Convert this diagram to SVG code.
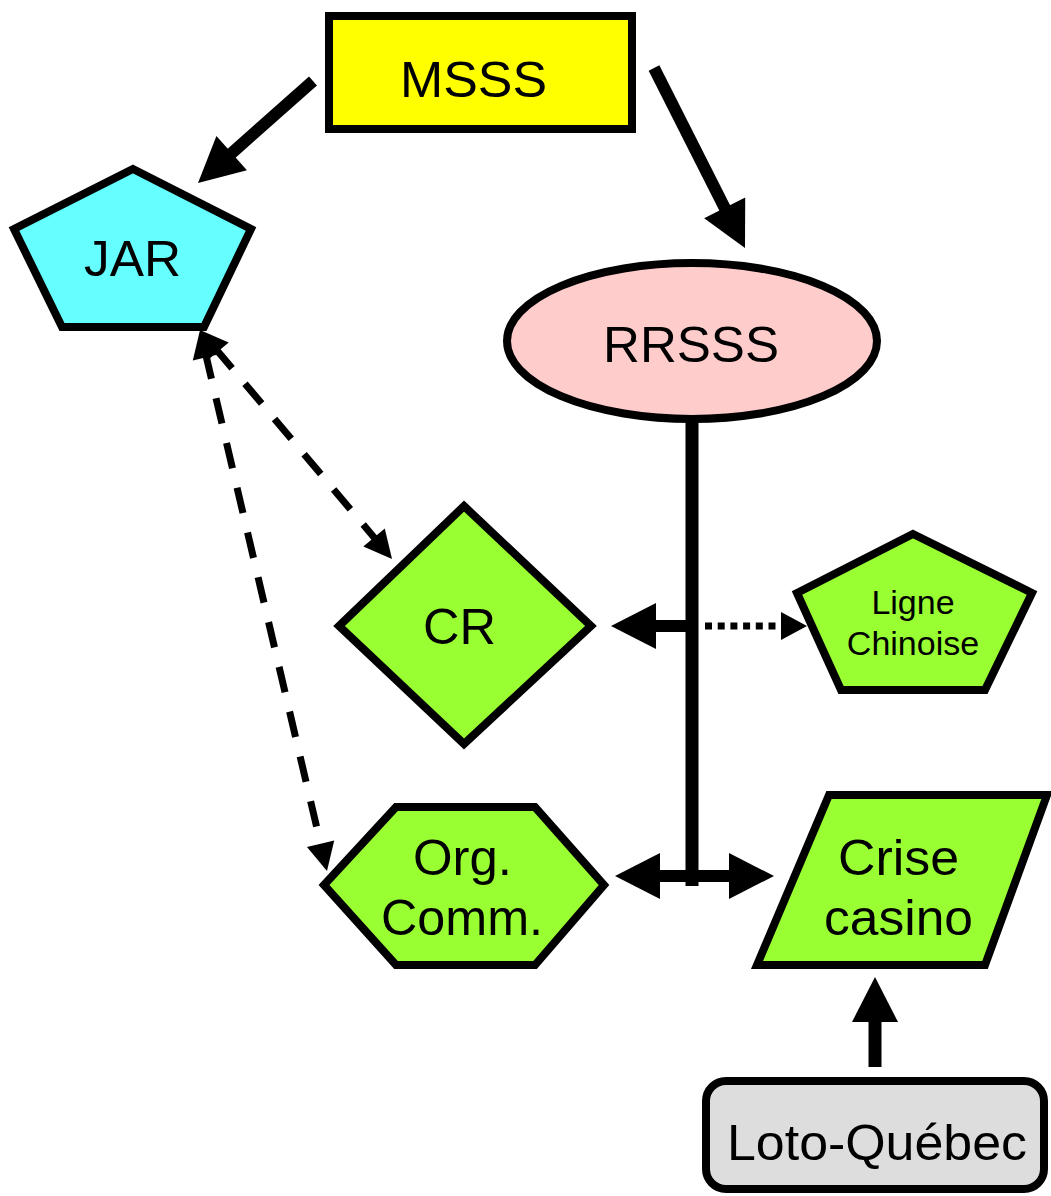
<svg xmlns="http://www.w3.org/2000/svg" width="1051" height="1196" viewBox="0 0 1051 1196">
  <style>
    .node { stroke: #000; stroke-width: 8; stroke-linejoin: miter; }
    .lbl { font-family: "Liberation Sans", Arial, sans-serif; fill: #000; text-anchor: middle; }
    .big { font-size: 50px; }
    .small { font-size: 34px; }
    .thick { stroke: #000; stroke-width: 12; fill: none; }
    .dash { stroke: #000; stroke-width: 7; fill: none; stroke-dasharray: 26 20; }
    .dot { stroke: #000; stroke-width: 7; fill: none; stroke-dasharray: 7 5.7; }
  </style>
  <defs>
    <marker id="bigArrow" markerUnits="userSpaceOnUse" markerWidth="45" markerHeight="46" refX="8" refY="23" orient="auto-start-reverse" overflow="visible">
      <path d="M0,0 L45,23 L0,46 z" fill="#000"/>
    </marker>
    <marker id="smallArrow" markerUnits="userSpaceOnUse" markerWidth="28" markerHeight="28" refX="4" refY="14" orient="auto-start-reverse" overflow="visible">
      <path d="M0,0 L28,14 L0,28 z" fill="#000"/>
    </marker>
    <marker id="dotArrow" markerUnits="userSpaceOnUse" markerWidth="26" markerHeight="28" refX="0" refY="14" orient="auto" overflow="visible">
      <path d="M0,0 L26,14 L0,28 z" fill="#000"/>
    </marker>
  </defs>
  <rect width="1051" height="1196" fill="#fff"/>

  <g id="connectors">
    <line class="thick" x1="313" y1="81" x2="225.7" y2="158.4" marker-end="url(#bigArrow)"/>
    <line class="thick" x1="654" y1="68" x2="728.3" y2="215" marker-end="url(#bigArrow)"/>
    <line class="thick" x1="692" y1="419" x2="692" y2="886" style="stroke-width:13"/>
    <line class="thick" x1="692" y1="626" x2="648" y2="626" marker-end="url(#bigArrow)"/>
    <line class="dot" x1="705" y1="626" x2="781" y2="626" marker-end="url(#dotArrow)"/>
    <line class="thick" x1="652" y1="876" x2="737" y2="876" marker-start="url(#bigArrow)" marker-end="url(#bigArrow)"/>
    <line class="thick" x1="875" y1="1067" x2="875" y2="1014" marker-end="url(#bigArrow)" style="stroke-width:13"/>
    <line class="dash" x1="215.4" y1="348.4" x2="376.6" y2="540.6" marker-start="url(#smallArrow)" marker-end="url(#smallArrow)"/>
    <line class="dash" x1="205.5" y1="353.4" x2="321.5" y2="847.6" marker-start="url(#smallArrow)" marker-end="url(#smallArrow)"/>
  </g>

  <g id="msss">
    <rect class="node" x="329" y="16" width="303" height="113" fill="#ffff00"/>
    <text class="lbl big" x="473.5" y="97" textLength="147" lengthAdjust="spacingAndGlyphs">MSSS</text>
  </g>
  <g id="jar">
    <polygon class="node" points="133,169 251,229 204,327 62,327 14,229" fill="#66ffff"/>
    <text class="lbl big" x="132.5" y="276" textLength="97" lengthAdjust="spacingAndGlyphs">JAR</text>
  </g>
  <g id="rrsss">
    <ellipse class="node" cx="692" cy="341" rx="185" ry="78" fill="#ffcccc"/>
    <text class="lbl big" x="691" y="362" textLength="176" lengthAdjust="spacingAndGlyphs">RRSSS</text>
  </g>
  <g id="cr">
    <polygon class="node" points="464,506 591,626 464,744 339,626" fill="#99ff33"/>
    <text class="lbl big" x="459.5" y="644" textLength="73" lengthAdjust="spacingAndGlyphs">CR</text>
  </g>
  <g id="ligne-chinoise">
    <polygon class="node" points="913,534 1032,593 985,690 841,690 797,593" fill="#99ff33"/>
    <text class="lbl small" x="913" y="614">Ligne</text>
    <text class="lbl small" x="913" y="655">Chinoise</text>
  </g>
  <g id="org-comm">
    <polygon class="node" points="324,885 396,807 535,807 604,885 535,965 396,965" fill="#99ff33"/>
    <text class="lbl big" x="462.5" y="875" textLength="99" lengthAdjust="spacingAndGlyphs">Org.</text>
    <text class="lbl big" x="462" y="935" textLength="162" lengthAdjust="spacingAndGlyphs">Comm.</text>
  </g>
  <g id="crise-casino">
    <polygon class="node" points="829,795 1047,795 985,965 757,965" fill="#99ff33"/>
    <text class="lbl big" x="898.5" y="875" textLength="121" lengthAdjust="spacingAndGlyphs">Crise</text>
    <text class="lbl big" x="898.5" y="935" textLength="149" lengthAdjust="spacingAndGlyphs">casino</text>
  </g>
  <g id="loto-quebec">
    <rect class="node" x="706" y="1081" width="338" height="108" rx="20" ry="20" fill="#dddddd"/>
    <text class="lbl big" x="877" y="1160" textLength="300" lengthAdjust="spacingAndGlyphs">Loto-Québec</text>
  </g>
</svg>
